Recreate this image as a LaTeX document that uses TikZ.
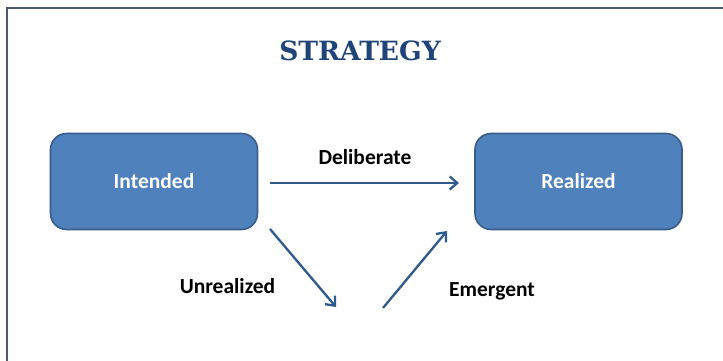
\documentclass[tikz,border=0pt]{standalone}
\usepackage{fontspec}
\setmainfont{DejaVu Serif}
\newfontfamily\calib{Carlito}
\usetikzlibrary{arrows.meta}
\definecolor{boxfill}{HTML}{4F81BD}
\definecolor{boxline}{HTML}{385D8A}
\definecolor{arrowcol}{HTML}{2E5A8C}
\definecolor{framecol}{HTML}{4A5A72}
\definecolor{titlecol}{HTML}{1F4478}
\begin{document}
\begin{tikzpicture}[x=1pt,y=-1pt,
  stratbox/.style={draw=boxline,line width=1.6pt,fill=boxfill,rounded corners=16pt,
    minimum width=207pt,minimum height=96pt,inner sep=0pt,
    text=white,font=\calib\bfseries\fontsize{21.5}{24}\selectfont},
  flowarrow/.style={draw=arrowcol,line width=2.3pt,-{Straight Barb[length=7.5pt,width=13pt,line width=2.3pt]}},
  flowlabel/.style={font=\calib\bfseries\fontsize{21.5}{24}\selectfont,text=black,inner sep=0pt}]
\useasboundingbox (0,0) rectangle (723,361);
\fill[white] (0,0) rectangle (723,361);
\coordinate (ftl) at (7,8.5);
\coordinate (ftr) at (723,8.5);
\coordinate (fbl) at (7,361);
\draw[framecol,line width=2pt] (ftr) -- (ftl) -- (fbl);
\node[font=\bfseries\fontsize{26.5}{30}\selectfont,text=titlecol,inner sep=0pt] (title) at (360,51) {STRATEGY};
\node[stratbox] (int) at (154,181.5) {Intended};
\node[stratbox] (real) at (578.5,181.5) {Realized};
\coordinate (dstart) at (270,183);
\coordinate (dend) at (459,183);
\draw[flowarrow] (dstart) -- (dend);
\node[flowlabel] (dlab) at (365,157) {Deliberate};
\coordinate (ustart) at (270,229);
\coordinate (uend) at (336,307);
\draw[flowarrow] (ustart) -- (uend);
\node[flowlabel] (ulab) at (227.5,286) {Unrealized};
\coordinate (estart) at (383,308);
\coordinate (eend) at (447,231);
\draw[flowarrow] (estart) -- (eend);
\node[flowlabel] (elab) at (492,291) {Emergent};
\end{tikzpicture}
\end{document}
